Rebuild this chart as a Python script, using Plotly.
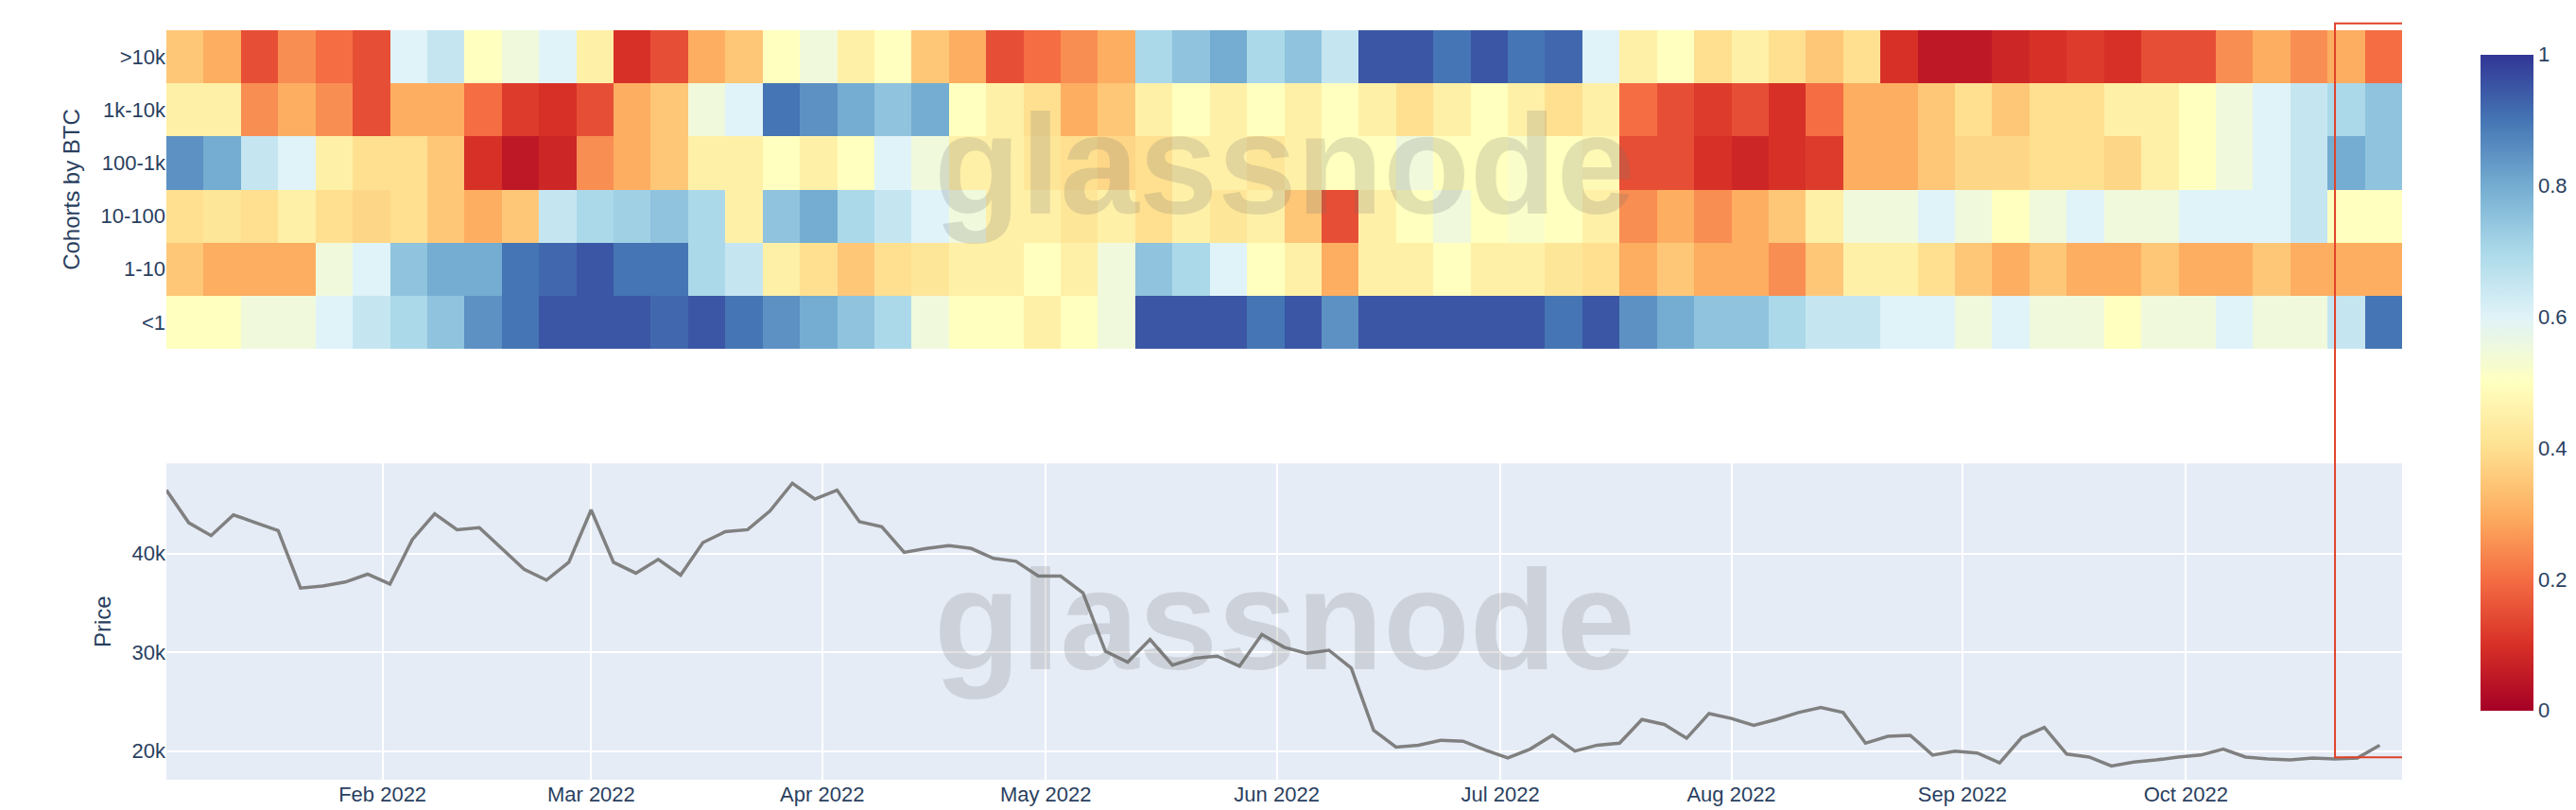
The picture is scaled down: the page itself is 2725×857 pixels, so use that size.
import pandas as pd
import plotly.graph_objects as go
from plotly.subplots import make_subplots

cohorts = ['<1', '1-10', '10-100', '100-1k', '1k-10k', '>10k']

# heatmap columns, one every 5 days from 2022-01-03
heat_dates = pd.date_range('2022-01-03', periods=60, freq='5D') + pd.Timedelta(hours=60)

r_gt10k = [0.35,0.3,0.15,0.25,0.2,0.15,0.6,0.65,0.5,0.55,0.6,0.45,0.1,0.15,0.3,0.35,0.5,0.55,0.45,0.5,
           0.35,0.3,0.15,0.2,0.25,0.3,0.7,0.75,0.8,0.7,0.75,0.65,0.95,0.95,0.9,0.95,0.9,0.92,0.6,0.45,
           0.5,0.4,0.45,0.4,0.35,0.4,0.1,0.05,0.05,0.08,0.1,0.12,0.1,0.15,0.15,0.25,0.3,0.25,0.3,0.2]
r_1k10k = [0.45,0.45,0.25,0.3,0.25,0.15,0.3,0.3,0.2,0.12,0.1,0.15,0.3,0.35,0.55,0.6,0.9,0.85,0.8,0.75,
           0.8,0.5,0.45,0.4,0.3,0.35,0.45,0.5,0.45,0.5,0.45,0.5,0.45,0.4,0.45,0.5,0.45,0.4,0.45,0.2,
           0.15,0.12,0.15,0.1,0.2,0.3,0.3,0.35,0.4,0.35,0.4,0.4,0.45,0.45,0.5,0.55,0.6,0.65,0.7,0.75]
r_100_1k = [0.85,0.8,0.65,0.6,0.45,0.4,0.4,0.35,0.1,0.05,0.08,0.25,0.3,0.35,0.45,0.45,0.5,0.45,0.5,0.6,
            0.55,0.45,0.45,0.42,0.4,0.38,0.4,0.45,0.45,0.42,0.45,0.5,0.5,0.55,0.5,0.5,0.52,0.5,0.48,0.15,
            0.15,0.1,0.08,0.1,0.12,0.3,0.3,0.35,0.38,0.38,0.4,0.4,0.38,0.45,0.5,0.55,0.6,0.65,0.8,0.75]
r_10_100 = [0.4,0.42,0.4,0.45,0.4,0.38,0.4,0.35,0.3,0.35,0.65,0.7,0.72,0.75,0.7,0.45,0.75,0.8,0.7,0.65,
            0.6,0.55,0.45,0.45,0.42,0.45,0.4,0.45,0.42,0.45,0.35,0.15,0.45,0.5,0.55,0.5,0.52,0.5,0.45,0.25,
            0.3,0.25,0.3,0.35,0.45,0.55,0.55,0.6,0.55,0.5,0.55,0.6,0.55,0.55,0.6,0.6,0.6,0.65,0.5,0.5]
r_1_10 = [0.35,0.3,0.3,0.3,0.55,0.6,0.75,0.8,0.8,0.9,0.92,0.95,0.9,0.9,0.7,0.65,0.45,0.4,0.35,0.4,
          0.42,0.45,0.45,0.5,0.45,0.55,0.75,0.7,0.6,0.5,0.45,0.3,0.45,0.45,0.5,0.45,0.45,0.42,0.4,0.3,
          0.35,0.3,0.3,0.25,0.35,0.45,0.45,0.4,0.35,0.3,0.35,0.3,0.3,0.35,0.3,0.3,0.35,0.3,0.3,0.3]
r_lt1 = [0.5,0.5,0.55,0.55,0.6,0.65,0.7,0.75,0.85,0.9,0.95,0.95,0.95,0.92,0.95,0.9,0.85,0.8,0.75,0.7,
         0.55,0.5,0.5,0.45,0.5,0.55,0.95,0.95,0.95,0.9,0.95,0.85,0.95,0.95,0.95,0.95,0.95,0.9,0.95,0.85,
         0.8,0.75,0.75,0.7,0.65,0.65,0.6,0.6,0.55,0.6,0.55,0.55,0.5,0.55,0.55,0.6,0.55,0.55,0.65,0.9]

# price in k USD, every 3 days from 2022-01-03
price_dates = pd.date_range('2022-01-03', periods=100, freq='3D')
price_k = [46.4,43.1,41.8,43.9,43.1,42.3,36.5,36.7,37.1,37.9,36.9,41.4,44.0,42.4,42.6,40.5,38.4,37.3,39.1,44.4,
           39.1,38.0,39.4,37.8,41.1,42.2,42.4,44.3,47.1,45.5,46.4,43.2,42.7,40.1,40.5,40.8,40.5,39.5,39.2,37.7,
           37.7,36.0,30.1,29.0,31.3,28.7,29.4,29.6,28.6,31.8,30.5,29.9,30.2,28.4,22.1,20.4,20.6,21.1,21.0,20.1,
           19.3,20.2,21.6,20.0,20.6,20.8,23.2,22.7,21.3,23.8,23.3,22.6,23.2,23.9,24.4,23.9,20.8,21.5,21.6,19.6,
           20.0,19.8,18.8,21.4,22.4,19.7,19.4,18.5,18.9,19.1,19.4,19.6,20.2,19.4,19.2,19.1,19.3,19.2,19.3,20.6]
price = [v * 1000 for v in price_k]

fig = make_subplots(rows=2, cols=1, shared_xaxes=False)

fig.add_trace(go.Heatmap(
    x=heat_dates, y=cohorts,
    z=[r_lt1, r_1_10, r_10_100, r_100_1k, r_1k10k, r_gt10k],
    colorscale='RdYlBu', zmin=0, zmax=1, zsmooth=False,
    colorbar=dict(x=1.031, xanchor='left', y=0.53, len=0.9, thickness=56,
                  tickvals=[0, 0.2, 0.4, 0.6, 0.8, 1], tickfont=dict(size=22, color='#2a3f5f'),
                  outlinewidth=0),
), row=1, col=1)

fig.add_trace(go.Scatter(x=price_dates, y=price, mode='lines',
                         line=dict(color='#808080', width=3.5), showlegend=False), row=2, col=1)

xr = ['2022-01-03', '2022-10-30']
fig.update_layout(
    width=2725, height=857,
    margin=dict(l=168, r=180, t=24, b=37),
    paper_bgcolor='white', plot_bgcolor='#E5ECF6',
    font=dict(family='Liberation Sans, Arial', size=22, color='#2a3f5f'),
    xaxis=dict(domain=[0, 1], range=xr, showticklabels=False, showgrid=False, anchor='y'),
    yaxis=dict(domain=[0.575, 1.0], title=dict(text='Cohorts by BTC', font=dict(size=24)),
               ticks='', showgrid=False),
    xaxis2=dict(domain=[0, 1], range=xr, dtick='M1', tickformat='%b %Y', gridcolor='white',
                gridwidth=2, anchor='y2', ticks=''),
    yaxis2=dict(domain=[0, 0.422], range=[17100, 49100], tickvals=[20000, 30000, 40000],
                ticktext=['20k', '30k', '40k'], gridcolor='white', gridwidth=2,
                title=dict(text='Price', font=dict(size=24)), zeroline=False),
)

# heatmap panel has white background
fig.add_shape(type='rect', xref='x domain', yref='y domain', x0=0, x1=1, y0=0, y1=1,
              fillcolor='white', line_width=0, layer='below')

for yy in [0.93, 0.105]:
    fig.add_annotation(text='<b>glassnode</b>', xref='paper', yref='paper', x=0.5, y=yy,
                       showarrow=False, font=dict(size=150, color='rgba(110,110,110,0.2)'))

fig.add_shape(type='rect', xref='x', yref='paper', x0='2022-10-21', x1='2022-10-31',
              y0=0.03, y1=1.009, line=dict(color='#e0412a', width=2))

fig.write_html('out.html')
